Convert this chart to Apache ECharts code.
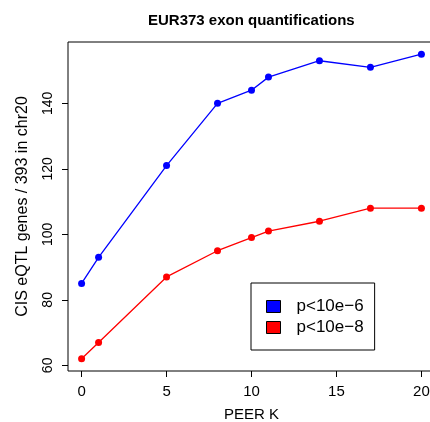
<!DOCTYPE html>
<html>
<head>
<meta charset="utf-8">
<script src="https://cdn.jsdelivr.net/npm/echarts@6/dist/echarts.min.js"></script>
<style>
  html, body { margin: 0; padding: 0; background: #fff; }
  #chart { width: 430px; height: 422px; }
</style>
</head>
<body>
<div id="chart"></div>
<script>
// PEER factor counts and cis-eQTL gene counts at two significance thresholds
const peerK = [0, 1, 5, 8, 10, 11, 14, 17, 20];
const genesP6 = [85, 93, 121, 140, 144, 148, 153, 151, 155];
const genesP8 = [62, 67, 87, 95, 99, 101, 104, 108, 108];
const seriesNames = ['p<10e\u22126', 'p<10e\u22128'];
const xTicks = [0, 5, 10, 15, 20];
const yTicks = [60, 80, 100, 120, 140];

const FONT = 'Liberation Sans, Arial, Helvetica, sans-serif';

// axis extents padded by 4% of the data range on each side
function padded(values) {
  const lo = Math.min(...values), hi = Math.max(...values);
  const d = (hi - lo) * 0.04;
  return [lo - d, hi + d];
}
const [xMin, xMax] = padded(peerK);
const [yMin, yMax] = padded(genesP6.concat(genesP8));

const chart = echarts.init(document.getElementById('chart'), null, { renderer: 'canvas' });

function lineSeries(name, values, color) {
  return {
    name: name,
    type: 'line',
    data: peerK.map((k, i) => [k, values[i]]),
    symbol: 'circle',
    symbolSize: 7,
    lineStyle: { color: color, width: 1.3 },
    itemStyle: { color: color },
    animation: false
  };
}

chart.setOption({
  animation: false,
  textStyle: { fontFamily: FONT },
  title: {
    text: 'EUR373 exon quantifications',
    left: 143, top: 8,
    textStyle: { fontSize: 15, fontWeight: 'bold', color: '#000', fontFamily: FONT }
  },
  grid: {
    left: 68, top: 42, width: 367, height: 329,
    outerBoundsMode: 'none',
    containLabel: false,
    show: true, borderColor: '#000', borderWidth: 1, backgroundColor: 'transparent'
  },
  legend: {
    orient: 'vertical',
    left: 251, top: 283,
    padding: [15, 11, 14, 15],
    itemGap: 4,
    itemWidth: 14, itemHeight: 12,
    icon: 'rect',
    borderColor: '#000', borderWidth: 1,
    backgroundColor: '#fff',
    textStyle: { fontSize: 17, color: '#000', fontFamily: FONT, padding: [0, 0, 0, 11] },
    data: [
      { name: seriesNames[0], itemStyle: { color: '#0000ff', borderColor: '#000', borderWidth: 1 } },
      { name: seriesNames[1], itemStyle: { color: '#ff0000', borderColor: '#000', borderWidth: 1 } }
    ]
  },
  xAxis: {
    type: 'value',
    min: xMin, max: xMax,
    name: 'PEER K',
    nameLocation: 'middle',
    nameGap: 36,
    nameTextStyle: { fontSize: 15, color: '#000', fontFamily: FONT },
    axisLine: { show: false, onZero: false },
    splitLine: { show: false },
    axisTick: { show: true, length: 6, lineStyle: { color: '#000' }, customValues: xTicks },
    axisLabel: { color: '#000', fontSize: 15, margin: 13, fontFamily: FONT, customValues: xTicks }
  },
  yAxis: {
    type: 'value',
    min: yMin, max: yMax,
    name: 'CIS eQTL genes / 393 in chr20',
    nameLocation: 'middle',
    nameGap: 37,
    nameTextStyle: { fontSize: 16, color: '#000', fontFamily: FONT },
    axisLine: { show: false, onZero: false },
    splitLine: { show: false },
    axisTick: { show: true, length: 6, lineStyle: { color: '#000' }, customValues: yTicks },
    axisLabel: { color: '#000', fontSize: 14, margin: 13, rotate: 90, fontFamily: FONT, customValues: yTicks }
  },
  series: [
    lineSeries(seriesNames[0], genesP6, '#0000ff'),
    lineSeries(seriesNames[1], genesP8, '#ff0000')
  ]
});
</script>
</body>
</html>
